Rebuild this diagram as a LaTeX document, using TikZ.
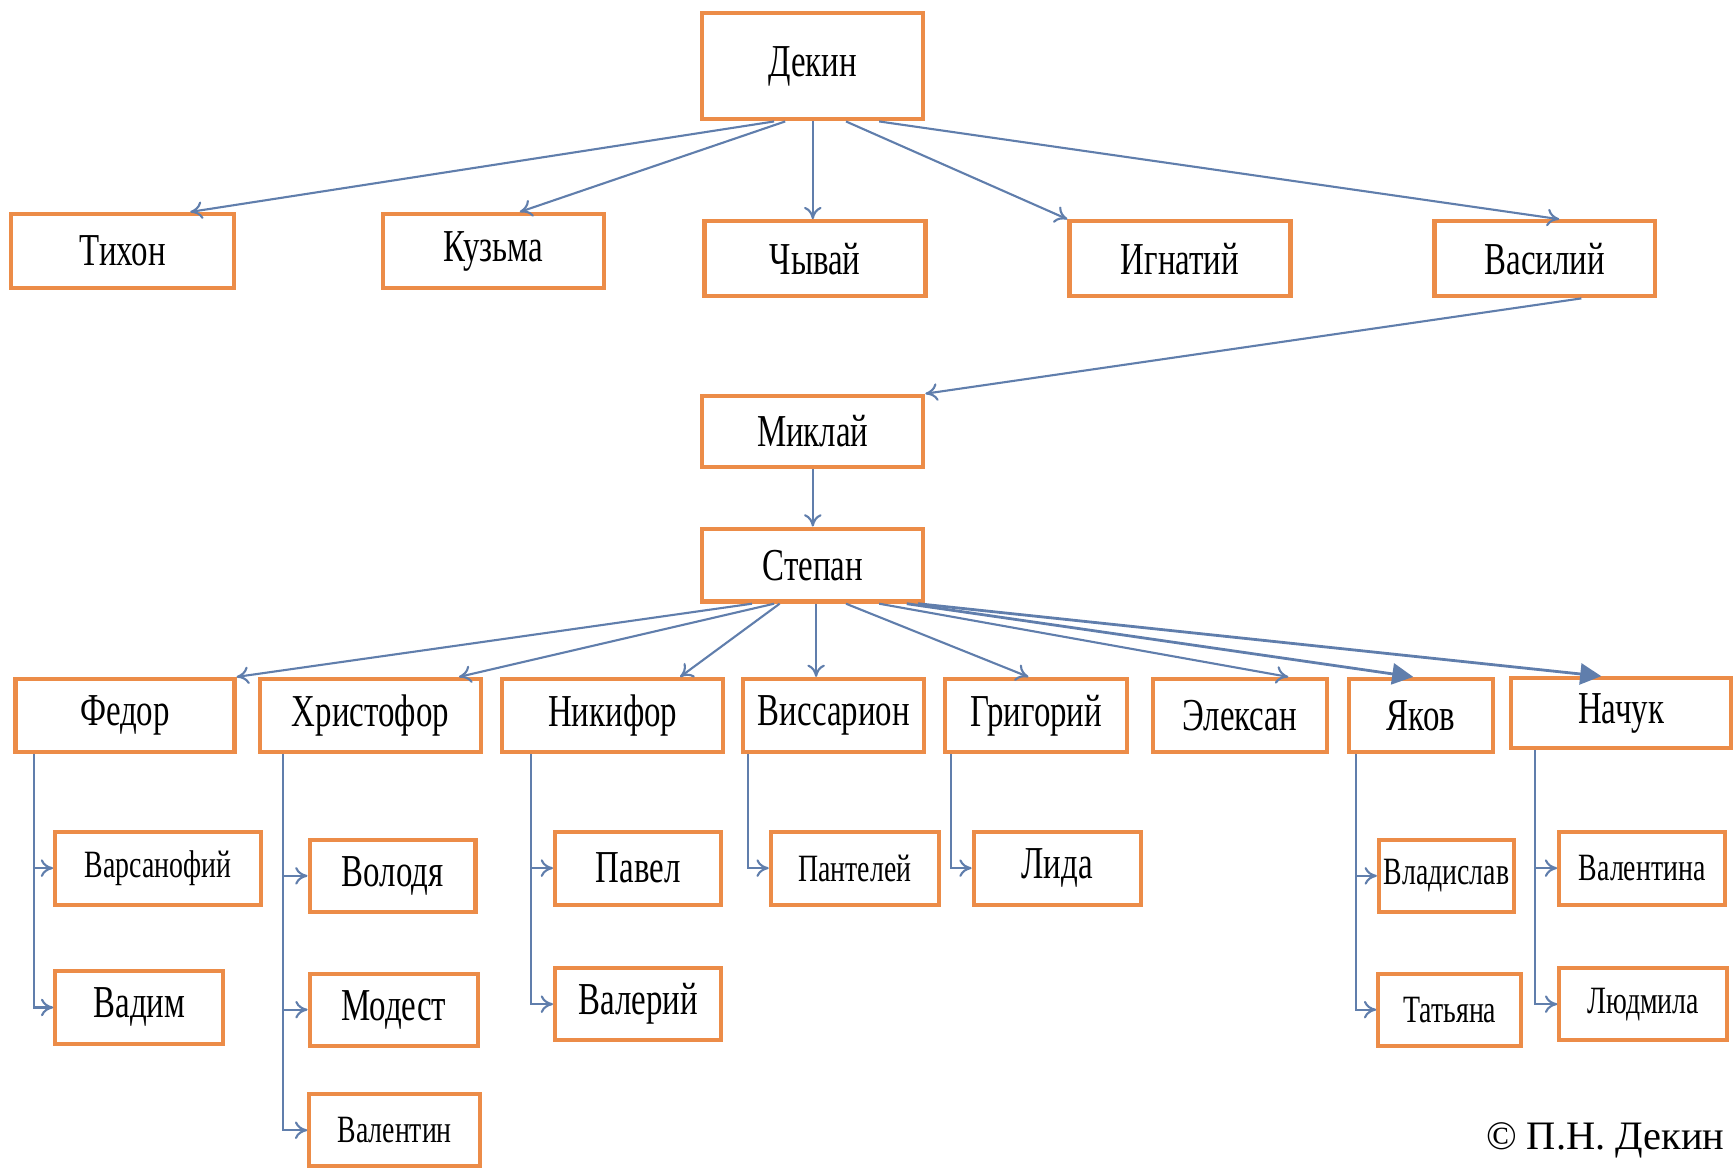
\documentclass[tikz,border=0pt]{standalone}
\usepackage{fontspec}
\setmainfont{Liberation Serif}[FakeStretch=0.72]
\newfontfamily\signfont{Liberation Serif}
\usepackage{tikz}
\usetikzlibrary{arrows.meta,calc}
\definecolor{boxor}{RGB}{236,140,72}
\definecolor{arrbl}{RGB}{96,126,172}

\begin{document}
\begin{tikzpicture}[x=0.01106cm,y=-0.01106cm,
	box/.style={draw=boxor,line width=1.2pt,fill=white,inner sep=1pt,minimum height=0.74cm,font=\fontsize{13}{15}\selectfont},
	small/.style={font=\fontsize{11}{13}\selectfont},
	arr/.style={draw=arrbl,line width=0.6pt,-{To[length=3.5pt,width=5pt]}},
	arrb/.style={draw=arrbl,line width=0.8pt,-{Triangle[length=6pt,width=6pt]}}]
\useasboundingbox (0,0) rectangle (1568,1057);
% top
\node [box,minimum width=2.21cm,minimum height=1.06cm] (dekin) at (735,60) {Декин};
\node [box,minimum width=2.23cm] (tikhon) at (111,227) {Тихон};
\node [box,minimum width=2.21cm] (kuzma) at (446,227) {Кузьма};
\node [box,minimum width=2.21cm,minimum height=0.75cm] (chyvai) at (737,234) {Чывай};
\node [box,minimum width=2.21cm,minimum height=0.75cm] (ignatii) at (1067,234) {Игнатий};
\node [box,minimum width=2.21cm,minimum height=0.75cm] (vasilii) at (1397,234) {Василий};
\node [box,minimum width=2.21cm,minimum height=0.71cm] (miklai) at (735,390) {Миклай};
\node [box,minimum width=2.21cm,minimum height=0.73cm] (stepan) at (735,511) {Степан};
% sons of Stepan
\node [box,minimum width=2.19cm,minimum height=0.73cm] (fedor) at (113,647) {Федор};
\node [box,minimum width=2.21cm,minimum height=0.73cm] (khristofor) at (335,647) {Христофор};
\node [box,minimum width=2.21cm,minimum height=0.73cm] (nikifor) at (554,647) {Никифор};
\node [box,minimum width=1.81cm,minimum height=0.73cm] (vissarion) at (754,647) {Виссарион};
\node [box,minimum width=1.82cm,minimum height=0.73cm] (grigorii) at (937,647) {Григорий};
\node [box,minimum width=1.74cm,minimum height=0.73cm] (eleksan) at (1121,647) {Элексан};
\node [box,minimum width=1.44cm,minimum height=0.73cm] (yakov) at (1285,647) {Яков};
\node [box,minimum width=2.20cm,minimum height=0.70cm] (nachuk) at (1466,645) {Начук};
% grandchildren
\node [box,small,minimum width=2.06cm,minimum height=0.73cm] (varsanofii) at (143,785) {Варсанофий};
\node [box,minimum width=1.68cm,minimum height=0.73cm] (vadim) at (126,911) {Вадим};
\node [box,minimum width=1.66cm,minimum height=0.72cm] (volodya) at (355,792) {Володя};
\node [box,minimum width=1.68cm,minimum height=0.72cm] (modest) at (356,913) {Модест};
\node [box,small,minimum width=1.71cm,minimum height=0.72cm] (valentin) at (357,1022) {Валентин};
\node [box,minimum width=1.66cm,minimum height=0.73cm] (pavel) at (577,785) {Павел};
\node [box,minimum width=1.66cm,minimum height=0.72cm] (valerii) at (577,908) {Валерий};
\node [box,small,minimum width=1.68cm,minimum height=0.73cm] (panteley) at (773,785) {Пантелей};
\node [box,minimum width=1.67cm,minimum height=0.73cm] (lida) at (956,785) {Лида};
\node [box,small,inner xsep=0pt,minimum width=1.35cm,minimum height=0.72cm] (vladislav) at (1308,792) {Владислав};
\node [box,small,minimum width=1.43cm,minimum height=0.72cm] (tatyana) at (1311,913) {Татьяна};
\node [box,small,minimum width=1.66cm,minimum height=0.73cm] (valentina) at (1485,785) {Валентина};
\node [box,small,minimum width=1.68cm,minimum height=0.72cm] (lyudmila) at (1486,908) {Людмила};
\node [anchor=south east,inner sep=0pt,font=\signfont\fontsize{11.5}{14}\selectfont] (sign) at (1560,1048) {© П.Н. Декин};
\coordinate (vs) at ($(stepan.south)+(3,0)$);
% arrows
\draw [arr] ($(dekin.south)+(-35,0)$) -- ($(tikhon.north)+(61,0)$);
\draw [arr] ($(dekin.south)+(-25,0)$) -- ($(kuzma.north)+(24,0)$);
\draw [arr] (dekin.south) -- (dekin.south |- chyvai.north);
\draw [arr] ($(dekin.south)+(30,0)$) -- (ignatii.north west);
\draw [arr] ($(dekin.south)+(60,0)$) -- ($(vasilii.north)+(13,0)$);
\draw [arr] ($(vasilii.south)+(33,0)$) -- (miklai.north east);
\draw [arr] (miklai.south) -- (stepan.north);
\draw [arr] ($(stepan.south)+(-55,0)$) -- (fedor.north east);
\draw [arr] ($(stepan.south)+(-35,0)$) -- ($(khristofor.north)+(80,0)$);
\draw [arr] ($(stepan.south)+(-30,0)$) -- ($(nikifor.north)+(61,0)$);
\draw [arr] (vs) -- (vs |- vissarion.north);
\draw [arr] ($(stepan.south)+(30,0)$) -- ($(grigorii.north)+(-7,0)$);
\draw [arr] ($(stepan.south)+(60,0)$) -- ($(eleksan.north)+(44,0)$);
\draw [arrb] ($(stepan.south)+(85,0)$) -- ($(yakov.north)+(-7,0)$);
\draw [arrb] ($(stepan.south)+(95,0)$) -- ($(nachuk.north)+(-18,0)$);
\draw [arr] ($(fedor.south west)+(19,0)$) |- (varsanofii.west);
\draw [arr] ($(fedor.south west)+(19,0)$) |- (vadim.west);
\draw [arr] ($(khristofor.south west)+(23,0)$) |- (volodya.west);
\draw [arr] ($(khristofor.south west)+(23,0)$) |- (modest.west);
\draw [arr] ($(khristofor.south west)+(23,0)$) |- (valentin.west);
\draw [arr] ($(nikifor.south west)+(28,0)$) |- (pavel.west);
\draw [arr] ($(nikifor.south west)+(28,0)$) |- (valerii.west);
\draw [arr] ($(vissarion.south west)+(6,0)$) |- (panteley.west);
\draw [arr] ($(grigorii.south west)+(7,0)$) |- (lida.west);
\draw [arr] ($(yakov.south west)+(8,0)$) |- (vladislav.west);
\draw [arr] ($(yakov.south west)+(8,0)$) |- (tatyana.west);
\draw [arr] ($(nachuk.south west)+(23,0)$) |- (valentina.west);
\draw [arr] ($(nachuk.south west)+(23,0)$) |- (lyudmila.west);
\end{tikzpicture}
\end{document}
